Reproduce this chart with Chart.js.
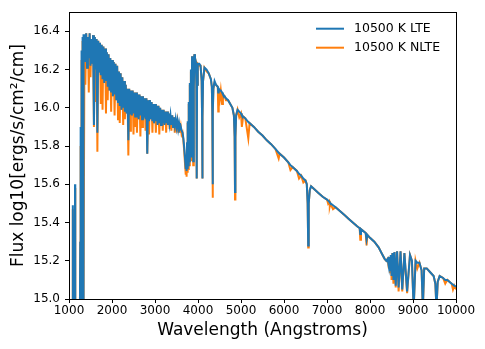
<!DOCTYPE html>
<html>
<head>
<meta charset="utf-8">
<title>10500 K LTE / NLTE spectrum</title>
<script src="https://cdn.jsdelivr.net/npm/chart.js@4.4.0/dist/chart.umd.min.js"></script>
<style>
  html, body { margin: 0; padding: 0; background: #fff; }
</style>
</head>
<body>
<canvas id="spectrum" width="485" height="349"></canvas>
<script>
// wavelength grid (Angstroms)
const wavelength = [
  // Lyman region
  1000, 1040, 1070, 1085, 1093, 1100, 1120, 1135, 1140, 1146, 1170, 1216, 1250, 1262,
  1268, 1274, 1280, 1286, 1292, 1298, 1304, 1310, 1316, 1322, 1328, 1335, 1341,
  // UV line forest
  1360, 1380, 1400, 1420, 1440, 1460, 1480, 1500, 1520, 1540,
  1560, 1580, 1600, 1620, 1640, 1660, 1680, 1700, 1720, 1740,
  1760, 1780, 1800, 1820, 1840, 1860, 1880, 1900, 1920, 1940,
  1960, 1980, 2000, 2020, 2040, 2060, 2080, 2100, 2120, 2140,
  2160, 2180, 2200, 2220, 2240, 2260, 2280, 2300, 2320, 2340,
  2360, 2380, 2400, 2420, 2440, 2460, 2480, 2500, 2520, 2540,
  2560, 2580, 2600, 2620, 2640, 2660, 2680, 2700, 2720, 2740,
  2760, 2780, 2800, 2820, 2840, 2860, 2880, 2900, 2920, 2940,
  2960, 2980, 3000, 3020, 3040, 3060, 3080, 3100, 3120, 3140,
  3160, 3180, 3200, 3220, 3240, 3260, 3280, 3300, 3320, 3340,
  3360, 3380, 3400, 3420, 3440, 3460, 3480, 3500, 3520, 3540,
  3560, 3580, 3600, 3620, 3640,
  // Balmer jump and Balmer lines
  3660, 3680, 3700, 3715, 3725, 3735, 3745, 3755, 3765, 3775, 3785, 3798, 3810, 3822,
  3835, 3848, 3862, 3876, 3889, 3902, 3915, 3930, 3950, 3962, 3970, 3978, 3995, 4030,
  4060, 4085, 4095, 4101, 4107, 4117, 4150, 4200, 4250, 4300, 4322, 4333, 4340, 4347,
  4358, 4385, 4420, 4460, 4471, 4482, 4510, 4530, 4560, 4580, 4620, 4650, 4700, 4750,
  4800, 4835, 4852, 4861, 4870, 4887, 4920, 4960, 5000, 5020, 5050, 5100, 5170, 5200,
  5300, 5400, 5500, 5600, 5700, 5800, 5876, 5900, 6000, 6100, 6150, 6200, 6300, 6350,
  6400, 6450, 6500, 6530, 6550, 6563, 6575, 6600, 6630,
  // red / Paschen region
  6700, 6800, 6900, 7000, 7025, 7050, 7065, 7080, 7140, 7200, 7300, 7400, 7500, 7600,
  7700, 7760, 7774, 7790, 7900, 7920, 7940, 8000, 8100, 8200, 8280, 8340, 8380, 8410,
  8438, 8452, 8467, 8484, 8502, 8522, 8545, 8570, 8598, 8630, 8665, 8710, 8750, 8800,
  8863, 8930, 8975, 9015, 9060, 9100, 9150, 9200, 9229, 9260, 9320, 9400, 9480, 9520,
  9546, 9575, 9620, 9700, 9750, 9800, 9900, 9930, 9960, 10000
];

// log10 flux, LTE model
const fluxLte = [
  14.6, 14.7, 14.8, 14.95, 15.49, 14.9, 14.85, 14.95, 15.60, 14.9, 14.7, 14.2, 14.8, 15.3,
  14.9, 15.9, 15.2, 16.2, 15.0, 16.3, 15.6, 16.35, 15.9, 16.37, 16.1, 14.9, 16.38,
  16.38, 16.24, 16.39, 16.21, 16.37, 16.26, 16.39, 16.22, 16.36, 16.23,
  16.38, 15.91, 16.37, 16.20, 16.36, 15.87, 16.35, 16.19, 16.34, 16.17,
  16.33, 16.15, 16.32, 16.13, 16.31, 16.14, 16.29, 16.11, 16.28, 16.09,
  16.26, 16.08, 16.25, 16.06, 16.24, 16.07, 16.23, 16.04, 16.22, 16.03,
  16.19, 16.01, 16.18, 15.99, 16.16, 16.00, 16.14, 15.98, 16.12, 15.97,
  16.10, 15.83, 16.10, 15.97, 16.09, 15.96, 16.09, 15.97, 16.08, 15.95,
  16.08, 15.95, 16.07, 15.94, 16.07, 15.96, 16.06, 15.94, 16.06, 15.95,
  16.05, 15.94, 16.05, 15.76, 16.04, 15.93, 16.04, 15.94, 16.03, 15.93,
  16.02, 15.92, 16.02, 15.93, 16.01, 15.91, 16.01, 15.92, 16.00, 15.91,
  15.99, 15.92, 15.99, 15.91, 15.98, 15.92, 15.98, 15.91, 15.97, 15.92,
  15.96, 15.91, 15.96, 15.90, 15.95, 15.91, 15.94, 15.90, 15.93, 15.89,
  15.92, 15.89, 15.90, 15.88, 15.87,
  15.84, 15.79, 15.73, 15.68, 15.74, 15.67, 15.82, 15.68, 15.93, 15.70, 16.03, 15.72, 16.13, 15.78,
  16.20, 15.74, 16.27, 16.10, 15.72, 16.10, 16.28, 16.26, 16.24, 16.12, 15.63, 16.12, 16.23, 16.23,
  16.22, 16.14, 15.95, 15.63, 15.95, 16.14, 16.21, 16.20, 16.18, 16.15, 16.11, 15.98, 15.60, 15.98,
  16.10, 16.14, 16.12, 16.11, 16.08, 16.10, 16.09, 16.09, 16.08, 16.07, 16.06, 16.05, 16.04, 16.02,
  16.00, 15.96, 15.85, 15.56, 15.85, 15.96, 15.99, 15.98, 15.97, 15.96, 15.955, 15.945, 15.925, 15.92,
  15.90, 15.875, 15.855, 15.83, 15.81, 15.785, 15.765, 15.76, 15.74, 15.715, 15.70, 15.69, 15.67, 15.655,
  15.645, 15.63, 15.62, 15.60, 15.50, 15.28, 15.50, 15.57, 15.59,
  15.575, 15.555, 15.535, 15.52, 15.515, 15.51, 15.505, 15.50, 15.49, 15.48, 15.46, 15.44, 15.42, 15.40,
  15.38, 15.37, 15.34, 15.365, 15.345, 15.31, 15.335, 15.32, 15.30, 15.27, 15.235, 15.21, 15.20, 15.21,
  15.17, 15.22, 15.15, 15.23, 15.12, 15.24, 15.10, 15.245, 15.07, 15.25, 15.06, 15.25, 15.05, 15.24,
  15.04, 15.23, 15.20, 14.95, 15.20, 15.19, 15.19, 15.15, 14.95, 15.16, 15.16, 15.14, 15.12, 15.08,
  14.95, 15.09, 15.12, 15.11, 15.10, 15.10, 15.08, 15.075, 15.07, 15.065
];

// log10 flux, NLTE model
const fluxNlte = [
  14.6, 14.7, 14.8, 14.95, 15.47, 14.9, 14.85, 14.95, 15.58, 14.9, 14.7, 14.2, 14.8, 15.3,
  14.9, 15.8, 15.3, 16.15, 15.0, 16.25, 15.5, 16.3, 15.8, 16.35, 16.0, 14.9, 15.0,
  16.38, 16.12, 16.39, 16.21, 16.37, 16.08, 16.39, 16.16, 16.36, 16.23,
  16.38, 15.90, 16.37, 16.03, 16.36, 15.77, 16.35, 16.19, 16.34, 16.02,
  16.33, 15.99, 16.32, 16.13, 16.31, 15.97, 16.29, 16.04, 16.28, 16.09,
  16.26, 15.98, 16.25, 16.06, 16.24, 15.96, 16.23, 16.04, 16.22, 15.94,
  16.19, 15.92, 16.18, 15.99, 16.16, 15.91, 16.14, 15.94, 16.12, 15.97,
  16.10, 15.75, 16.10, 15.88, 16.09, 15.96, 16.09, 15.86, 16.08, 15.90,
  16.08, 15.87, 16.07, 15.94, 16.07, 15.85, 16.06, 15.90, 16.06, 15.95,
  16.05, 15.88, 16.05, 15.76, 16.04, 15.86, 16.04, 15.94, 16.03, 15.87,
  16.02, 15.92, 16.02, 15.87, 16.01, 15.91, 16.01, 15.86, 16.00, 15.91,
  15.99, 15.88, 15.99, 15.91, 15.98, 15.87, 15.98, 15.91, 15.97, 15.89,
  15.96, 15.88, 15.96, 15.90, 15.95, 15.87, 15.94, 15.90, 15.93, 15.87,
  15.92, 15.87, 15.90, 15.86, 15.87,
  15.83, 15.77, 15.70, 15.65, 15.72, 15.64, 15.80, 15.66, 15.92, 15.68, 16.02, 15.70, 16.12, 15.76,
  16.19, 15.72, 16.27, 16.10, 15.70, 16.10, 16.28, 16.26, 16.24, 16.12, 15.63, 16.12, 16.23, 16.22,
  16.22, 16.14, 15.95, 15.63, 15.95, 16.14, 16.21, 16.19, 16.18, 16.15, 16.11, 15.96, 15.53, 15.96,
  16.10, 16.13, 16.12, 16.11, 15.98, 16.10, 16.05, 16.09, 16.02, 16.07, 16.06, 16.04, 16.04, 16.02,
  16.00, 15.96, 15.85, 15.52, 15.84, 15.96, 15.99, 15.95, 15.97, 15.90, 15.955, 15.945, 15.84, 15.92,
  15.90, 15.875, 15.855, 15.83, 15.81, 15.785, 15.735, 15.76, 15.74, 15.715, 15.675, 15.69, 15.67, 15.63,
  15.645, 15.61, 15.62, 15.60, 15.50, 15.27, 15.50, 15.57, 15.59,
  15.575, 15.555, 15.535, 15.52, 15.50, 15.51, 15.485, 15.50, 15.47, 15.48, 15.46, 15.44, 15.42, 15.40,
  15.38, 15.37, 15.31, 15.365, 15.345, 15.28, 15.335, 15.32, 15.30, 15.27, 15.235, 15.21, 15.20, 15.21,
  15.16, 15.22, 15.14, 15.23, 15.10, 15.24, 15.08, 15.245, 15.06, 15.25, 15.04, 15.25, 15.04, 15.24,
  15.03, 15.23, 15.20, 14.95, 15.20, 15.16, 15.19, 15.15, 14.95, 15.16, 15.16, 15.14, 15.12, 15.08,
  14.95, 15.09, 15.12, 15.11, 15.08, 15.10, 15.08, 15.05, 15.07, 15.05
];

const seriesLabels = ['10500 K LTE', '10500 K NLTE'];
const seriesColors = ['#1f77b4', '#ff7f0e'];
const xTicks = [1000, 2000, 3000, 4000, 5000, 6000, 7000, 8000, 9000, 10000];
const yTicks = [15.0, 15.2, 15.4, 15.6, 15.8, 16.0, 16.2, 16.4];

const toPoints = (ys) => ys.map((y, i) => ({ x: wavelength[i], y }));

const tickFont = { family: '"DejaVu Sans", sans-serif', size: 12 };
const titleFont = { family: '"DejaVu Sans", sans-serif', size: 17 };

// box around the plot and the legend inside its top right corner
const frameAndLegend = {
  id: 'frameAndLegend',
  afterDraw(chart) {
    const { ctx, chartArea: a } = chart;
    ctx.save();
    ctx.strokeStyle = '#000';
    ctx.lineWidth = 1;
    ctx.strokeRect(Math.round(a.left) + 0.5, Math.round(a.top) + 0.5,
      Math.round(a.right - a.left), Math.round(a.bottom - a.top));

    ctx.font = '12.5px "DejaVu Sans", sans-serif';
    ctx.textBaseline = 'middle';
    ctx.textAlign = 'left';
    chart.data.datasets.forEach((ds, i) => {
      const y = a.top + 16.5 + i * 19;
      ctx.strokeStyle = ds.borderColor;
      ctx.lineWidth = 2;
      ctx.beginPath();
      ctx.moveTo(a.right - 140, y);
      ctx.lineTo(a.right - 112, y);
      ctx.stroke();
      ctx.fillStyle = '#000';
      ctx.fillText(ds.label, a.right - 102, y + 0.5);
    });
    ctx.restore();
  }
};

new Chart(document.getElementById('spectrum'), {
  type: 'line',
  data: {
    datasets: [
      {
        label: seriesLabels[0],
        data: toPoints(fluxLte),
        borderColor: seriesColors[0],
        backgroundColor: seriesColors[0],
        borderWidth: 2,
        pointRadius: 0,
        tension: 0,
      },
      {
        label: seriesLabels[1],
        data: toPoints(fluxNlte),
        borderColor: seriesColors[1],
        backgroundColor: seriesColors[1],
        borderWidth: 2,
        pointRadius: 0,
        tension: 0,
      },
    ],
  },
  options: {
    responsive: false,
    animation: false,
    events: [],
    devicePixelRatio: 1,
    layout: { padding: { top: 12, right: 29, left: 0, bottom: 0 } },
    plugins: {
      legend: { display: false },
      tooltip: { enabled: false },
    },
    scales: {
      x: {
        type: 'linear',
        min: 1000,
        max: 10000,
        afterBuildTicks: (s) => { s.ticks = xTicks.map((v) => ({ value: v })); },
        afterFit: (s) => { s.height = 50; },
        ticks: {
          color: '#000',
          font: tickFont,
          padding: 1,
          maxRotation: 0,
          autoSkip: false,
          callback: (v) => String(v),
        },
        grid: { drawOnChartArea: false, color: '#000', tickLength: 4 },
        border: { color: '#000', width: 1 },
        title: {
          display: true,
          text: 'Wavelength (Angstroms)',
          color: '#000',
          font: titleFont,
          padding: { top: 0, bottom: 8 },
        },
      },
      y: {
        type: 'linear',
        min: 15.0,
        max: 16.5,
        afterBuildTicks: (s) => { s.ticks = yTicks.map((v) => ({ value: v })); },
        afterFit: (s) => { s.width = 69; },
        ticks: {
          color: '#000',
          font: tickFont,
          padding: 5,
          autoSkip: false,
          callback: (v) => Number(v).toFixed(1),
        },
        grid: { drawOnChartArea: false, color: '#000', tickLength: 4 },
        border: { color: '#000', width: 1 },
        title: {
          display: true,
          text: 'Flux log10[ergs/s/cm²/cm]',
          color: '#000',
          font: titleFont,
          padding: { top: 8, bottom: 0 },
        },
      },
    },
  },
  plugins: [frameAndLegend],
});
</script>
</body>
</html>
